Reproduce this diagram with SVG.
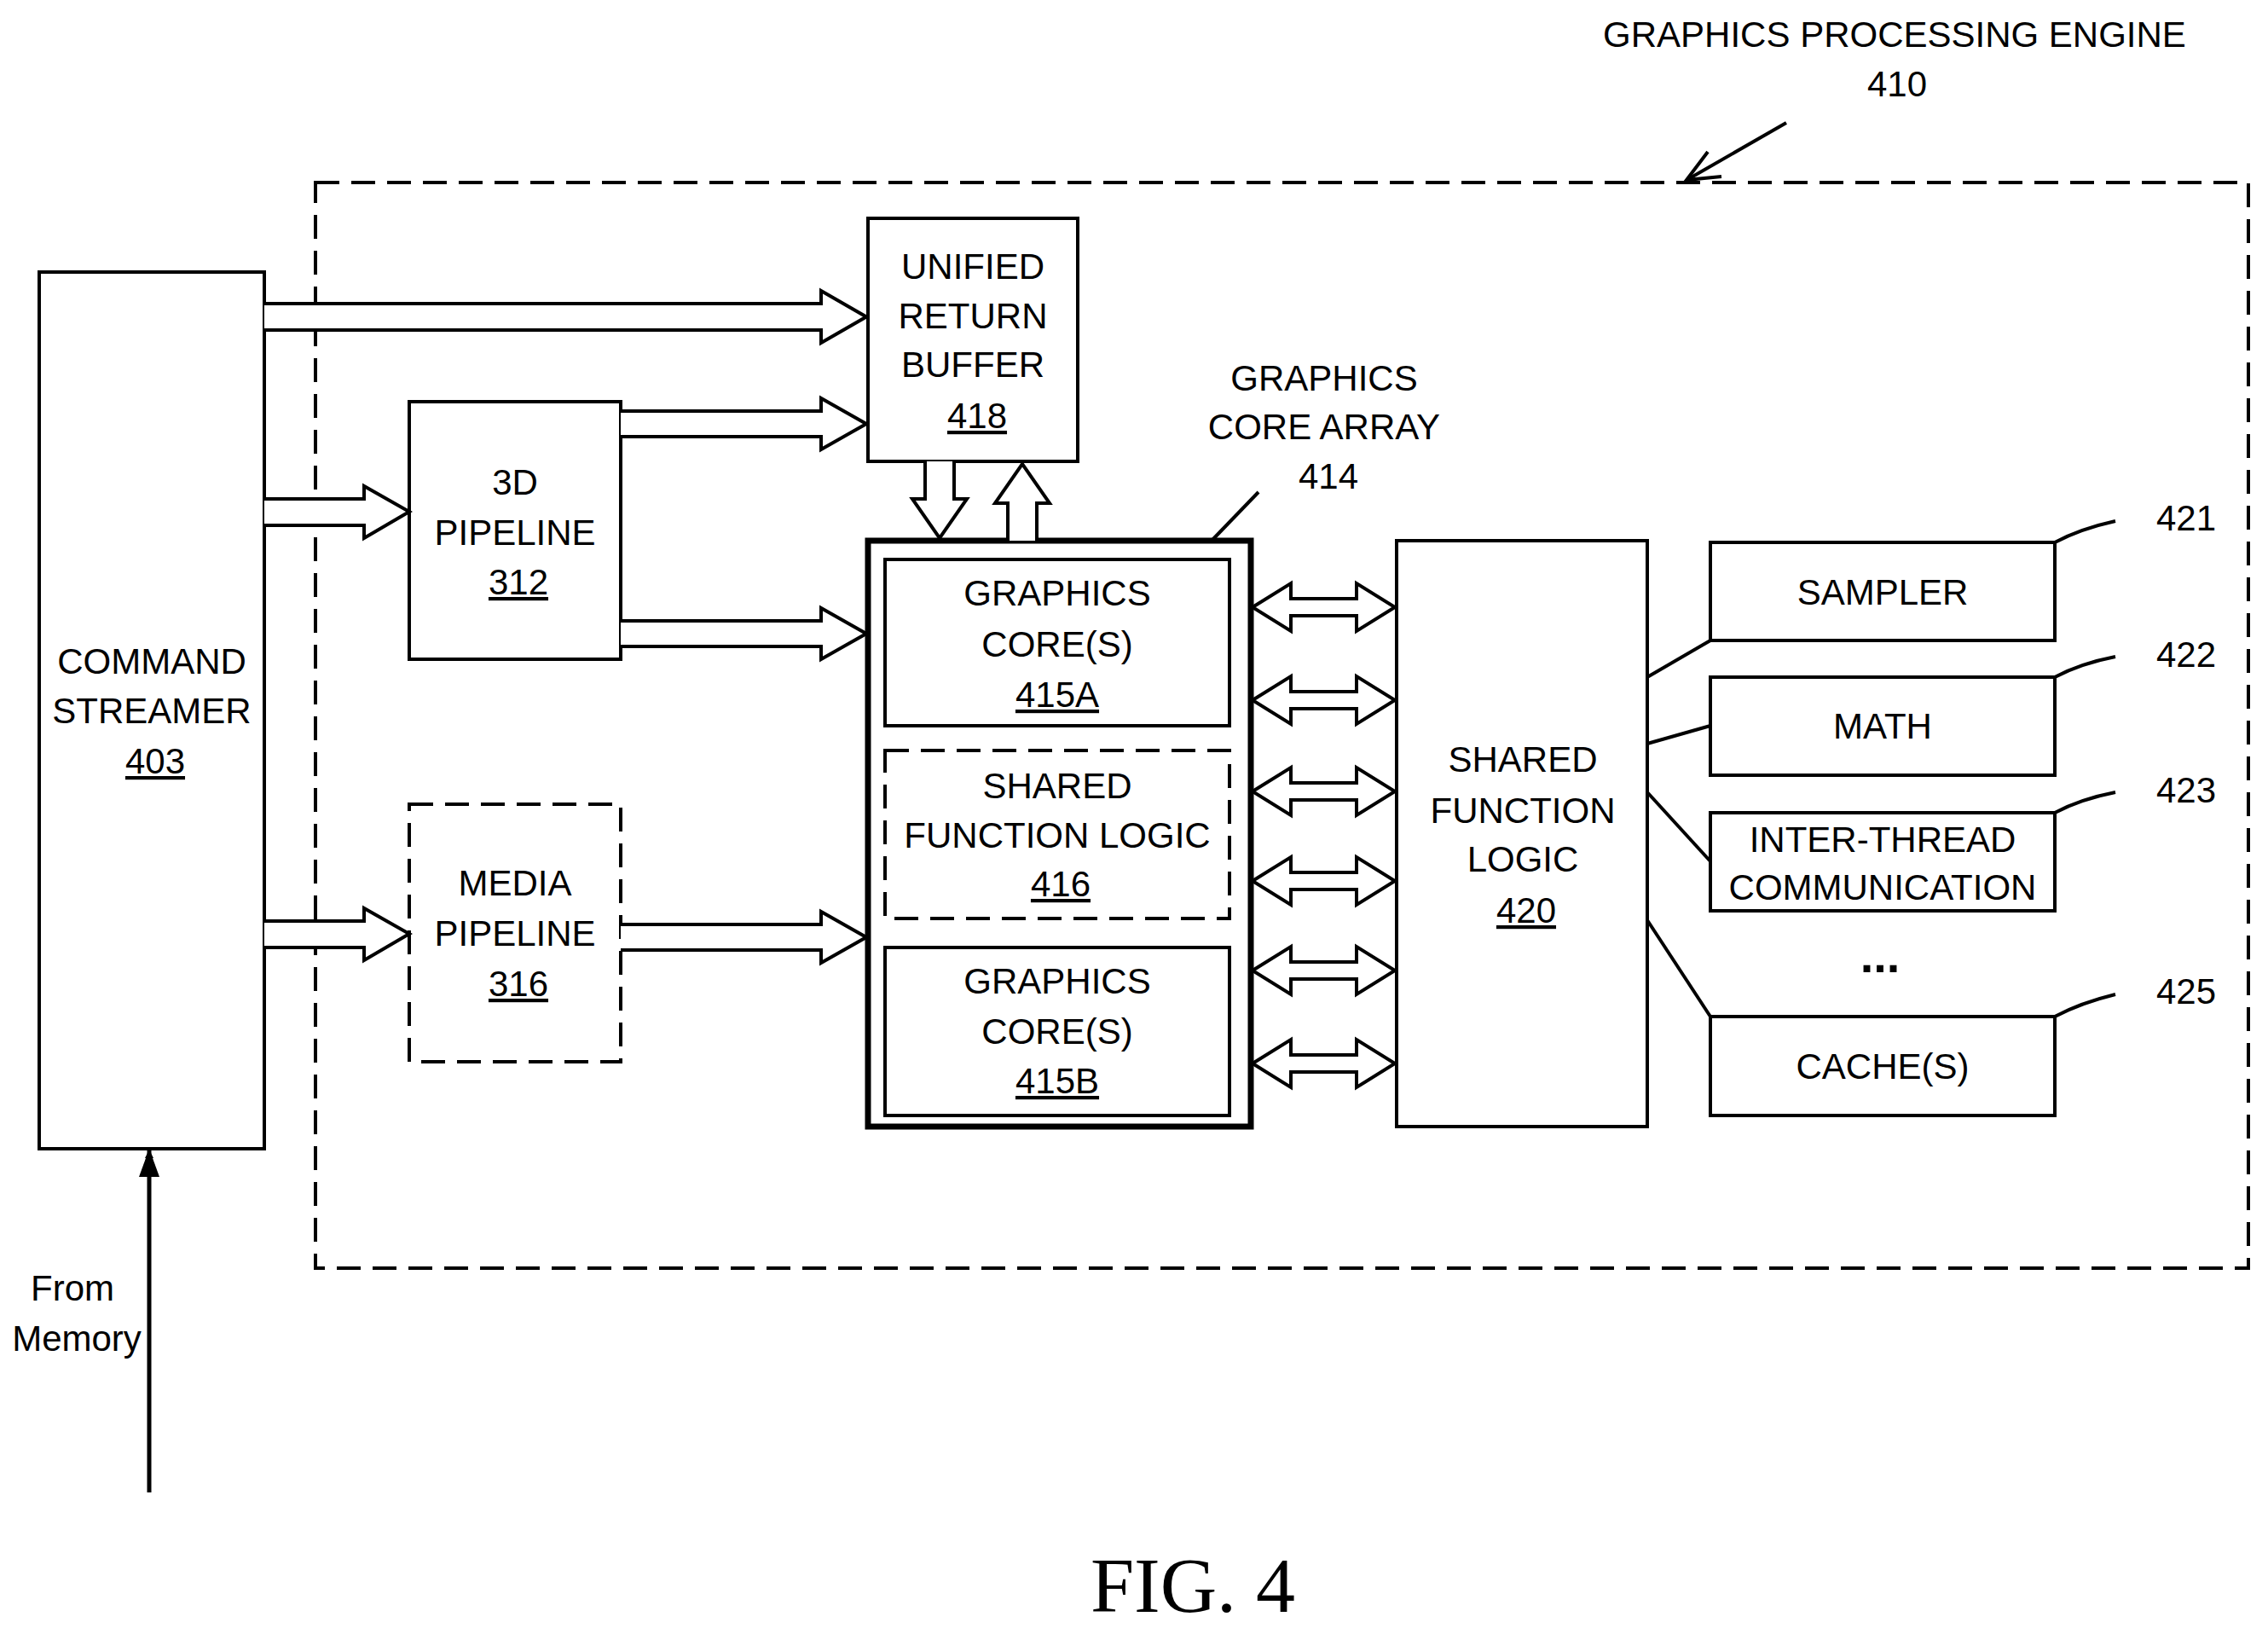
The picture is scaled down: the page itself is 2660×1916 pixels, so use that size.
<svg xmlns="http://www.w3.org/2000/svg" width="2660" height="1916" viewBox="0 0 2660 1916">
<defs>
<style>
.b{fill:#fff;stroke:#000;stroke-width:4}
.d{fill:#fff;stroke:#000;stroke-width:4;stroke-dasharray:28 14}
.t{font-family:"Liberation Sans",Arial,sans-serif;font-size:42px;text-anchor:middle;fill:#000}
.u{text-decoration:underline}
.a{fill:#fff;stroke:#000;stroke-width:4;stroke-linejoin:miter}
.l{fill:none;stroke:#000;stroke-width:4}
</style>
<marker id="fa" markerWidth="10" markerHeight="10" refX="9" refY="5" orient="auto" markerUnits="userSpaceOnUse" viewBox="0 0 10 10"><path d="M0,0 L10,5 L0,10 Z" fill="#000"/></marker>
</defs>
<rect width="2660" height="1916" fill="#fff"/>
<g id="engine">
<rect x="370" y="214" width="2267" height="1273" fill="none" stroke="#000" stroke-width="4" stroke-dasharray="28 14"/>
<text class="t" x="2222" y="55">GRAPHICS PROCESSING ENGINE</text>
<text class="t" x="2225" y="113">410</text>
</g>
<g id="cs"><rect class="b" x="46" y="319" width="264" height="1028"/>
<text class="t" x="178" y="790">COMMAND</text><text class="t" x="178" y="848">STREAMER</text><text class="t u" x="182" y="907">403</text></g>
<g id="urb"><rect class="b" x="1018" y="256" width="246" height="285"/>
<text class="t" x="1141" y="327">UNIFIED</text><text class="t" x="1141" y="385">RETURN</text><text class="t" x="1141" y="442">BUFFER</text><text class="t u" x="1146" y="502">418</text></g>
<g id="p3d"><rect class="b" x="480" y="471" width="248" height="302"/>
<text class="t" x="604" y="580">3D</text><text class="t" x="604" y="639">PIPELINE</text><text class="t u" x="608" y="697">312</text></g>
<g id="media"><rect class="d" x="480" y="943" width="248" height="302"/>
<text class="t" x="604" y="1050">MEDIA</text><text class="t" x="604" y="1109">PIPELINE</text><text class="t u" x="608" y="1168">316</text></g>
<g id="gca"><rect x="1018" y="634" width="449" height="687" fill="#fff" stroke="#000" stroke-width="7"/>
<text class="t" x="1553" y="458">GRAPHICS</text><text class="t" x="1553" y="515">CORE ARRAY</text><text class="t" x="1558" y="573">414</text>
<line class="l" x1="1421" y1="634" x2="1476" y2="577"/></g>
<g id="c415a"><rect class="b" x="1038" y="656" width="404" height="195"/>
<text class="t" x="1240" y="710">GRAPHICS</text><text class="t" x="1240" y="770">CORE(S)</text><text class="t u" x="1240" y="829">415A</text></g>
<g id="s416"><rect class="d" x="1038" y="880" width="404" height="197"/>
<text class="t" x="1240" y="936">SHARED</text><text class="t" x="1240" y="994">FUNCTION LOGIC</text><text class="t u" x="1244" y="1051">416</text></g>
<g id="c415b"><rect class="b" x="1038" y="1111" width="404" height="197"/>
<text class="t" x="1240" y="1165">GRAPHICS</text><text class="t" x="1240" y="1224">CORE(S)</text><text class="t u" x="1240" y="1282">415B</text></g>
<g id="sfl"><rect class="b" x="1638" y="634" width="294" height="687"/>
<text class="t" x="1786" y="905">SHARED</text><text class="t" x="1786" y="965">FUNCTION</text><text class="t" x="1786" y="1022">LOGIC</text><text class="t u" x="1790" y="1082">420</text></g>
<g id="sampler"><rect class="b" x="2006" y="636" width="404" height="115"/><text class="t" x="2208" y="709">SAMPLER</text>
<path class="l" d="M2410,636 Q2440,620 2481,611"/><text class="t" x="2564" y="622">421</text></g>
<g id="math"><rect class="b" x="2006" y="794" width="404" height="115"/><text class="t" x="2208" y="866">MATH</text>
<path class="l" d="M2410,794 Q2440,778 2481,770"/><text class="t" x="2564" y="782">422</text></g>
<g id="itc"><rect class="b" x="2006" y="953" width="404" height="115"/><text class="t" x="2208" y="999">INTER-THREAD</text><text class="t" x="2208" y="1055">COMMUNICATION</text>
<path class="l" d="M2410,953 Q2440,937 2481,929"/><text class="t" x="2564" y="941">423</text></g>
<text class="t" x="2205" y="1140" style="font-size:56px;font-weight:bold">...</text>
<g id="cache"><rect class="b" x="2006" y="1192" width="404" height="116"/><text class="t" x="2208" y="1265">CACHE(S)</text>
<path class="l" d="M2410,1192 Q2440,1176 2481,1166"/><text class="t" x="2564" y="1177">425</text></g>
<g id="connectors">
<path class="a" d="M310,356 H963 V341 L1016,371.5 L963,402 V387 H310"/>
<path class="a" d="M728,482 H963 V467 L1016,497 L963,527 V512 H728"/>
<path class="a" d="M310,585 H427 V570 L480,600 L427,631 V616 H310"/>
<path class="a" d="M728,728 H963 V713 L1016,743 L963,773 V758 H728"/>
<path class="a" d="M310,1080 H427 V1065 L480,1095 L427,1126 V1111 H310"/>
<path class="a" d="M728,1084 H963 V1069 L1016,1099 L963,1129 V1114 H728"/>
<path class="a" d="M1085,541 V585 H1070 L1102,631 L1134,585 H1119 V541"/>
<path class="a" d="M1182,634 V590 H1167 L1199,544 L1231,590 H1216 V634"/>
<path class="a" d="M1469,712 L1514,684 V702 H1591 V684 L1636,712 L1591,740 V722 H1514 V740 Z"/>
<path class="a" d="M1469,821 L1514,793 V811 H1591 V793 L1636,821 L1591,849 V831 H1514 V849 Z"/>
<path class="a" d="M1469,928 L1514,900 V918 H1591 V900 L1636,928 L1591,956 V938 H1514 V956 Z"/>
<path class="a" d="M1469,1033 L1514,1005 V1023 H1591 V1005 L1636,1033 L1591,1061 V1043 H1514 V1061 Z"/>
<path class="a" d="M1469,1138 L1514,1110 V1128 H1591 V1110 L1636,1138 L1591,1166 V1148 H1514 V1166 Z"/>
<path class="a" d="M1469,1247 L1514,1219 V1237 H1591 V1219 L1636,1247 L1591,1275 V1257 H1514 V1275 Z"/>
<line class="l" x1="1932" y1="794" x2="2006" y2="751"/>
<line class="l" x1="1932" y1="872" x2="2006" y2="851"/>
<line class="l" x1="1932" y1="929" x2="2006" y2="1010"/>
<line class="l" x1="1932" y1="1079" x2="2006" y2="1192"/>
<line x1="175" y1="1750" x2="175" y2="1349" stroke="#000" stroke-width="5" marker-end="url(#fa)"/>
<path d="M175,1347 L163,1380 L187,1380 Z" fill="#000"/>
<line class="l" x1="2095" y1="144" x2="1980" y2="210"/>
<path class="l" d="M2003,178 L1978,211 L2019,207"/>
</g>
<text class="t" x="85" y="1525">From</text>
<text class="t" x="90" y="1584">Memory</text>
<text x="1399" y="1890" style="font-family:'Liberation Serif',serif;font-size:92px;text-anchor:middle">FIG. 4</text>
</svg>
